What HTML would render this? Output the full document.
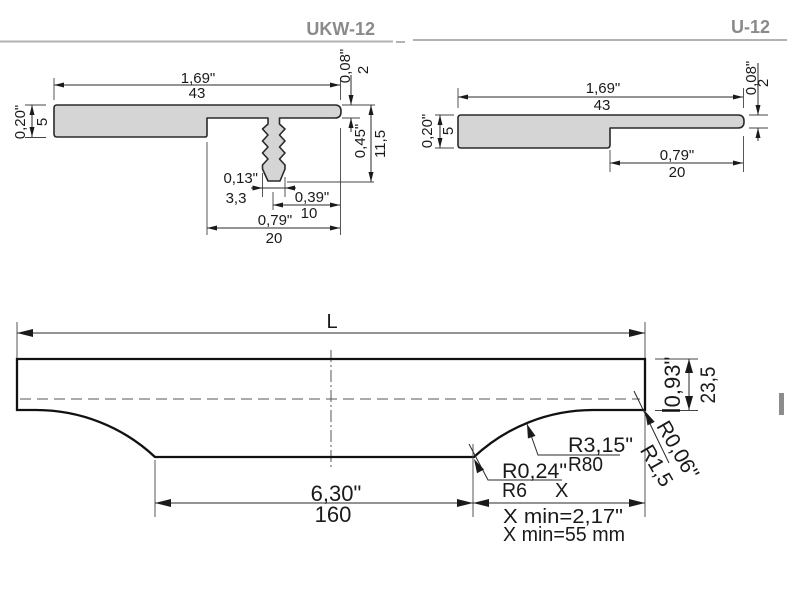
<!DOCTYPE html>
<html><head><meta charset="utf-8"><style>
html,body{margin:0;padding:0;background:#fff;}
svg{display:block;}
text{font-family:"Liberation Sans",Arial,sans-serif;fill:#1a1a1a;}
.d{stroke:#2a2a2a;stroke-width:1;fill:none;}
.e{stroke:#444;stroke-width:0.9;fill:none;}
.a{fill:#1a1a1a;stroke:none;}
.t{font-size:15px;}
.p{fill:#d5d5d5;stroke:#2a2a2a;stroke-width:1.6;stroke-linejoin:round;}
</style></head><body>
<svg width="800" height="600" viewBox="0 0 800 600" xmlns="http://www.w3.org/2000/svg">
<!-- headers -->
<line x1="0" y1="41.5" x2="393" y2="41.5" stroke="#b3b3b3" stroke-width="2"/>
<line x1="396" y1="42" x2="405" y2="42" stroke="#b3b3b3" stroke-width="2"/>
<line x1="413" y1="40" x2="787" y2="40" stroke="#b3b3b3" stroke-width="2"/>
<text x="375" y="35" text-anchor="end" style="font-size:18px;font-weight:bold;fill:#8a8a8a">UKW-12</text>
<text x="770" y="33" text-anchor="end" style="font-size:18px;font-weight:bold;fill:#8a8a8a">U-12</text>

<!-- UKW-12 profile -->
<path class="p" d="M57,105 H335 Q341,105 341,111 V112 Q341,118 335,118 H279.5 V124 L285,129 L279.5,135 L285,141 L279.5,147 L285,153 L279.5,159 L285,165 V169 L280,181 H268 L262.5,169 V165 L268,159 L262.5,153 L268,147 L262.5,141 L268,135 L262.5,129 L268,124 V118 H207 V135 Q207,137 205,137 H57 Q54,137 54,134 V108 Q54,105 57,105 Z"/>

<!-- 1,69 / 43 -->
<line class="e" x1="54" y1="78" x2="54" y2="100"/>
<line class="e" x1="340.5" y1="78" x2="340.5" y2="100"/>
<line class="d" x1="54" y1="85" x2="340" y2="85"/>
<polygon class="a" points="54,85 64,82.5 64,87.5"/>
<polygon class="a" points="340,85 330,82.5 330,87.5"/>
<text class="t" x="198" y="83" text-anchor="middle">1,69"</text>
<text class="t" x="197" y="98" text-anchor="middle">43</text>

<!-- 0,08 / 2 -->
<line class="d" x1="351" y1="75" x2="351" y2="105"/>
<polygon class="a" points="351,105 348.5,95 353.5,95"/>
<line class="d" x1="351" y1="118" x2="351" y2="132"/>
<polygon class="a" points="351,118 348.5,128 353.5,128"/>
<line class="e" x1="342" y1="105" x2="375" y2="105"/>
<line class="e" x1="342" y1="118" x2="360" y2="118"/>
<text class="t" transform="translate(350,66) rotate(-90)" text-anchor="middle">0,08"</text>
<text class="t" transform="translate(368,70) rotate(-90)" text-anchor="middle">2</text>

<!-- 0,45 / 11,5 -->
<line class="d" x1="371" y1="105" x2="371" y2="182"/>
<polygon class="a" points="371,105 368.5,115 373.5,115"/>
<polygon class="a" points="371,182 368.5,172 373.5,172"/>
<line class="e" x1="287" y1="182" x2="374" y2="182"/>
<text class="t" transform="translate(365,141) rotate(-90)" text-anchor="middle">0,45"</text>
<text class="t" transform="translate(385,144) rotate(-90)" text-anchor="middle">11,5</text>

<!-- 0,20 / 5 -->
<line class="d" x1="32" y1="105" x2="32" y2="137"/>
<polygon class="a" points="32,105 29.5,115 34.5,115"/>
<polygon class="a" points="32,137 29.5,127 34.5,127"/>
<line class="e" x1="25" y1="105" x2="46" y2="105"/>
<line class="e" x1="25" y1="137.5" x2="46" y2="137.5"/>
<text class="t" transform="translate(25,122) rotate(-90)" text-anchor="middle">0,20"</text>
<text class="t" transform="translate(47,122) rotate(-90)" text-anchor="middle">5</text>

<!-- 0,13 / 3,3 -->
<line class="e" x1="262.5" y1="173" x2="262.5" y2="197"/>
<line class="e" x1="285" y1="177" x2="285" y2="197"/>
<line class="d" x1="251" y1="188" x2="296" y2="188"/>
<polygon class="a" points="262.5,188 252.5,185.5 252.5,190.5"/>
<polygon class="a" points="285,188 295,185.5 295,190.5"/>
<text class="t" x="258" y="183" text-anchor="end">0,13"</text>
<text class="t" x="236" y="203" text-anchor="middle">3,3</text>

<!-- 0,39 / 10 -->
<line class="e" x1="273" y1="192" x2="273" y2="210"/>
<line class="d" x1="273" y1="205" x2="340" y2="205"/>
<polygon class="a" points="273,205 283,202.5 283,207.5"/>
<polygon class="a" points="340,205 330,202.5 330,207.5"/>
<text class="t" x="312" y="202" text-anchor="middle">0,39"</text>
<text class="t" x="309" y="218" text-anchor="middle">10</text>

<!-- 0,79 / 20 -->
<line class="e" x1="207" y1="142" x2="207" y2="235"/>
<line class="e" x1="340.5" y1="128" x2="340.5" y2="235"/>
<line class="d" x1="207" y1="228" x2="340" y2="228"/>
<polygon class="a" points="207,228 217,225.5 217,230.5"/>
<polygon class="a" points="340,228 330,225.5 330,230.5"/>
<text class="t" x="275" y="225" text-anchor="middle">0,79"</text>
<text class="t" x="274" y="243" text-anchor="middle">20</text>

<!-- U-12 profile -->
<path class="p" d="M461,115 H738 Q744,115 744,121 V122 Q744,128 738,128 H610 V145 Q610,148 607,148 H461 Q458,148 458,145 V118 Q458,115 461,115 Z"/>

<line class="e" x1="458" y1="88" x2="458" y2="108"/>
<line class="e" x1="743.5" y1="88" x2="743.5" y2="108"/>
<line class="d" x1="458" y1="97" x2="743" y2="97"/>
<polygon class="a" points="458,97 468,94.5 468,99.5"/>
<polygon class="a" points="743,97 733,94.5 733,99.5"/>
<text class="t" x="603" y="93" text-anchor="middle">1,69"</text>
<text class="t" x="602" y="110" text-anchor="middle">43</text>

<line class="d" x1="758" y1="63" x2="758" y2="115"/>
<polygon class="a" points="758,115 755.5,105 760.5,105"/>
<line class="d" x1="758" y1="128" x2="758" y2="141"/>
<polygon class="a" points="758,128 755.5,138 760.5,138"/>
<line class="e" x1="749" y1="115" x2="768" y2="115"/>
<line class="e" x1="749" y1="128" x2="768" y2="128"/>
<text class="t" transform="translate(756,78) rotate(-90)" text-anchor="middle">0,08"</text>
<text class="t" transform="translate(768,83) rotate(-90)" text-anchor="middle">2</text>

<line class="d" x1="440" y1="115" x2="440" y2="148"/>
<polygon class="a" points="440,115 437.5,125 442.5,125"/>
<polygon class="a" points="440,148 437.5,138 442.5,138"/>
<line class="e" x1="435" y1="115" x2="454" y2="115"/>
<line class="e" x1="435" y1="148" x2="454" y2="148"/>
<text class="t" transform="translate(432,131) rotate(-90)" text-anchor="middle">0,20"</text>
<text class="t" transform="translate(453,131) rotate(-90)" text-anchor="middle">5</text>

<line class="e" x1="610" y1="150" x2="610" y2="172"/>
<line class="e" x1="743.5" y1="136" x2="743.5" y2="172"/>
<line class="d" x1="610" y1="163" x2="743" y2="163"/>
<polygon class="a" points="610,163 620,160.5 620,165.5"/>
<polygon class="a" points="743,163 733,160.5 733,165.5"/>
<text class="t" x="677" y="160" text-anchor="middle">0,79"</text>
<text class="t" x="677" y="177" text-anchor="middle">20</text>

<!-- ===== Bottom drawing ===== -->
<!-- L -->
<line class="e" x1="17" y1="322" x2="17" y2="358"/>
<line class="e" x1="645" y1="322" x2="645" y2="517"/>
<line class="d" x1="17" y1="333" x2="645" y2="333"/>
<polygon class="a" points="17,333 33,329 33,337"/>
<polygon class="a" points="645,333 629,329 629,337"/>
<text x="332" y="328" text-anchor="middle" style="font-size:20px">L</text>

<!-- hidden line and centerline -->
<line x1="20" y1="399" x2="640" y2="399" stroke="#555" stroke-width="1" stroke-dasharray="11,6"/>
<line x1="331" y1="350" x2="331" y2="468" stroke="#555" stroke-width="1" stroke-dasharray="12,3,2,3"/>

<!-- body -->
<path d="M17,359 H645 V410 H593 A174,174 0 0 0 474,457 H155 A174,174 0 0 0 36,410 H17 Z" fill="none" stroke="#111" stroke-width="2.3" stroke-linejoin="miter"/>

<!-- 6,30 / 160 and X -->
<line class="e" x1="155" y1="460" x2="155" y2="517"/>
<line class="e" x1="473" y1="444" x2="473" y2="517"/>
<line class="d" x1="155" y1="503" x2="645" y2="503"/>
<polygon class="a" points="155,503 171,499 171,507"/>
<polygon class="a" points="473,503 457,499 457,507"/>
<polygon class="a" points="473,503 489,499 489,507"/>
<polygon class="a" points="645,503 629,499 629,507"/>
<text x="336" y="501" text-anchor="middle" style="font-size:22px">6,30"</text>
<text x="333" y="522" text-anchor="middle" style="font-size:22px">160</text>

<!-- R6 leader -->
<polyline class="d" points="469,444 488,480 562,480"/>
<polygon class="a" points="474,459 477,473.3 484,469.5"/>
<text x="502" y="478" style="font-size:21px" textLength="65" lengthAdjust="spacingAndGlyphs">R0,24"</text>
<text x="502" y="497" style="font-size:20px" textLength="25" lengthAdjust="spacingAndGlyphs">R6</text>
<text x="555" y="497" style="font-size:20px">X</text>

<!-- R80 leader -->
<polyline class="d" points="527,424 538,455 620,455"/>
<polygon class="a" points="527,424 527.9,438.5 535.5,435.9"/>
<text x="568" y="452" style="font-size:21px" textLength="65" lengthAdjust="spacingAndGlyphs">R3,15"</text>
<text x="568" y="471" style="font-size:20px" textLength="35" lengthAdjust="spacingAndGlyphs">R80</text>

<!-- R1,5 leader -->
<line class="d" x1="634" y1="391" x2="669" y2="463"/>
<polygon class="a" points="645,411 647.5,425.4 654.7,421.9"/>
<text transform="translate(656,426) rotate(60)" style="font-size:21px">R0,06"</text>
<text transform="translate(639.5,450) rotate(60)" style="font-size:21px">R1,5</text>

<!-- X min texts -->
<text x="503" y="523" style="font-size:20px" textLength="120" lengthAdjust="spacingAndGlyphs">X min=2,17"</text>
<text x="503" y="541" style="font-size:20px" textLength="122" lengthAdjust="spacingAndGlyphs">X min=55 mm</text>

<!-- 0,93 / 23,5 -->
<line class="e" x1="655" y1="359" x2="698" y2="359"/>
<line class="e" x1="655" y1="410.5" x2="698" y2="410.5"/>
<line x1="662" y1="410.5" x2="680" y2="410.5" stroke="#111" stroke-width="2.5"/>
<line class="d" x1="689" y1="359" x2="689" y2="410"/>
<polygon class="a" points="689,359 685,373 693,373"/>
<polygon class="a" points="689,410 685,396 693,396"/>
<text transform="translate(680,382) rotate(-90)" text-anchor="middle" style="font-size:22px">0,93"</text>
<text transform="translate(715,385) rotate(-90)" text-anchor="middle" style="font-size:21px" textLength="37" lengthAdjust="spacingAndGlyphs">23,5</text>

<!-- gray bar -->
<rect x="779" y="393" width="5" height="22" fill="#8c8c8c"/>
</svg>
</body></html>
